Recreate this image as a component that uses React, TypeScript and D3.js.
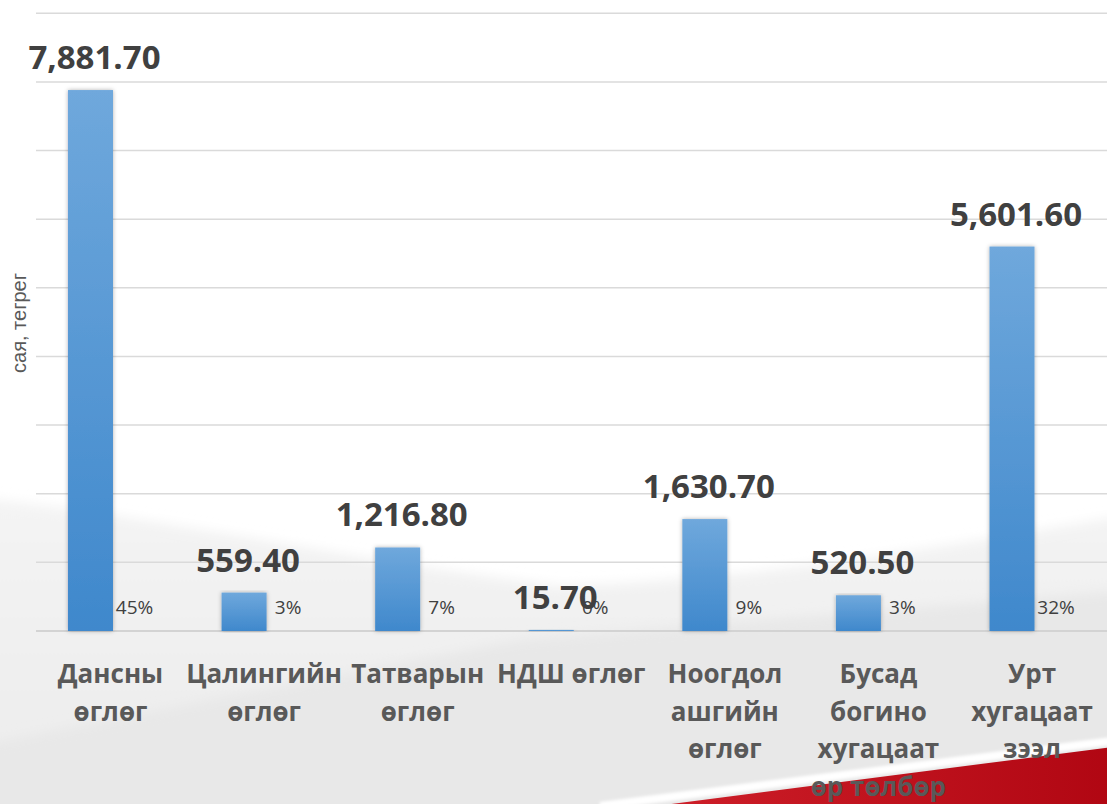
import React from "react";
import * as d3 from "d3";

// values (сая төгрөг)
const categories = [
  "Дансны өглөг",
  "Цалингийн өглөг",
  "Татварын өглөг",
  "НДШ өглөг",
  "Ноогдол ашгийн өглөг",
  "Бусад богино хугацаат өр төлбөр",
  "Урт хугацаат зээл",
];
const labelLines = [
  ["Дансны", "өглөг"],
  ["Цалингийн", "өглөг"],
  ["Татварын", "өглөг"],
  ["НДШ өглөг"],
  ["Ноогдол", "ашгийн", "өглөг"],
  ["Бусад", "богино", "хугацаат", "өр төлбөр"],
  ["Урт", "хугацаат", "зээл"],
];
const amounts = [7881.7, 559.4, 1216.8, 15.7, 1630.7, 520.5, 5601.6];
const shares = [45, 3, 7, 0, 9, 3, 32];
const yTicks = [0, 1000, 2000, 3000, 4000, 5000, 6000, 7000, 8000, 9000];
const yTitle = "сая, тегрег";

const W = 1107;
const H = 804;

export default function App() {
  const x = d3
    .scaleBand<string>()
    .domain(categories)
    .range([13.7, 1088.8])
    .paddingInner(0.707)
    .paddingOuter(0.3535);
  const y = d3.scaleLinear().domain([0, 9000]).range([631, 13.3]);
  const fmt = d3.format(",.2f");
  const font = "'Open Sans', 'DejaVu Sans', sans-serif";
  const mid = (c: string) => (x(c) as number) + x.bandwidth() / 2;

  return (
    <svg
      width={W}
      height={H}
      style={{ position: "absolute", left: 0, top: 0, display: "block" }}
    >
      <defs>
        <linearGradient id="barGrad" x1="0" y1="0" x2="0" y2="1">
          <stop offset="0%" stopColor="#6fa8dc" />
          <stop offset="100%" stopColor="#3f88cc" />
        </linearGradient>
        <linearGradient id="grayGrad" x1="0" y1="0" x2="0" y2="1">
          <stop offset="0%" stopColor="#f4f4f4" />
          <stop offset="100%" stopColor="#ebebeb" />
        </linearGradient>
        <linearGradient id="redGrad" x1="0" y1="0" x2="1" y2="0">
          <stop offset="0%" stopColor="#d0202a" />
          <stop offset="100%" stopColor="#b00612" />
        </linearGradient>
        <filter id="soft" x="-10%" y="-10%" width="120%" height="120%">
          <feGaussianBlur stdDeviation="6" />
        </filter>
        <filter id="soft2" x="-10%" y="-10%" width="120%" height="120%">
          <feGaussianBlur stdDeviation="1.5" />
        </filter>
        <filter id="shadow" x="-30%" y="-5%" width="160%" height="110%">
          <feDropShadow dx="0" dy="0" stdDeviation="2" floodColor="#000" floodOpacity="0.3" />
        </filter>
      </defs>

      {/* background decoration */}
      <rect width={W} height={H} fill="#ffffff" />
      <path
        d="M-20,498 C150,515 350,560 560,586 C760,580 950,545 1130,515 L1130,830 L-20,830 Z"
        fill="url(#grayGrad)"
        filter="url(#soft)"
      />
      <path
        d="M-20,745 L520,640 C700,625 900,610 1130,590 L1130,830 L-20,830 Z"
        fill="#e8e8e8"
        filter="url(#soft)"
      />
      <path d="M600,806 L1120,740" stroke="#ffffff" strokeWidth={8} filter="url(#soft2)" />
      <path d="M625,810 L1120,746 L1120,810 Z" fill="url(#redGrad)" />

      {/* gridlines */}
      {yTicks.map((t) => (
        <line
          key={t}
          x1={36}
          x2={W}
          y1={y(t)}
          y2={y(t)}
          stroke={t === 0 ? "#d3d3d3" : "#dadada"}
          strokeWidth={t === 0 ? 2 : 1.5}
        />
      ))}

      {/* bars */}
      {categories.map((c, i) => (
        <rect
          key={c}
          x={x(c)}
          y={y(amounts[i])}
          width={x.bandwidth()}
          height={y(0) - y(amounts[i])}
          fill="url(#barGrad)"
          filter="url(#shadow)"
        />
      ))}

      {/* value labels */}
      {categories.map((c, i) => (
        <text
          key={c}
          x={mid(c) + 4}
          y={y(amounts[i]) - 21}
          textAnchor="middle"
          fontFamily={font}
          fontWeight="bold"
          fontSize={33}
          fill="#404040"
        >
          {fmt(amounts[i])}
        </text>
      ))}

      {/* share labels */}
      {categories.map((c, i) => (
        <text
          key={c}
          x={mid(c) + 44}
          y={614}
          textAnchor="middle"
          fontFamily={font}
          fontSize={19}
          fill="#404040"
        >
          {shares[i]}%
        </text>
      ))}

      {/* category labels */}
      {categories.map((c, i) => (
        <text
          key={c}
          x={mid(c) + 20}
          y={683}
          textAnchor="middle"
          fontFamily={font}
          fontWeight="bold"
          fontSize={26}
          fill="#595959"
        >
          {labelLines[i].map((ln, j) => (
            <tspan key={j} x={mid(c) + 20} dy={j === 0 ? 0 : 37.5}>
              {ln}
            </tspan>
          ))}
        </text>
      ))}

      {/* y title */}
      <text
        transform="translate(26,323) rotate(-90)"
        textAnchor="middle"
        fontFamily="'Liberation Sans', Arial, sans-serif"
        fontSize={20}
        fill="#595959"
      >
        {yTitle}
      </text>
    </svg>
  );
}
